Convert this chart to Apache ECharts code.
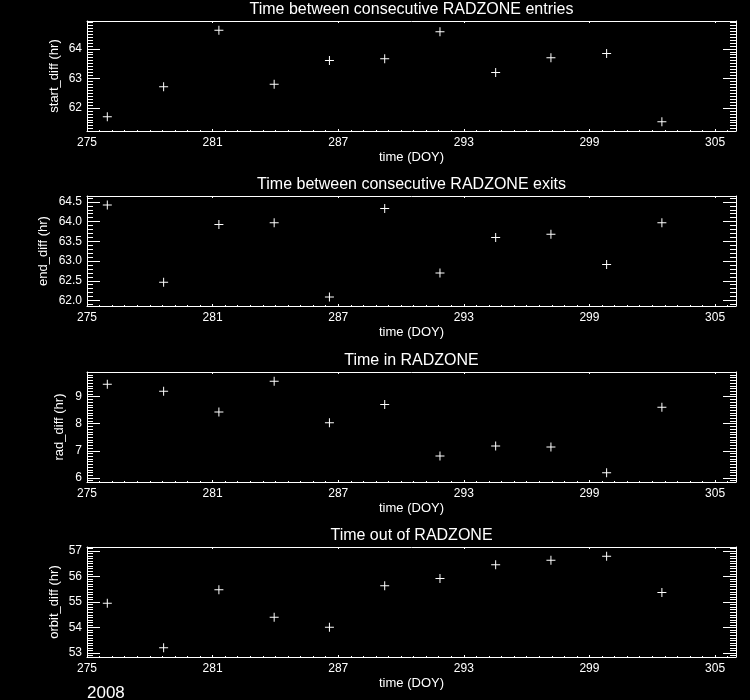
<!DOCTYPE html>
<html><head><meta charset="utf-8">
<script src="https://cdn.jsdelivr.net/npm/echarts@6/dist/echarts.min.js"></script>
<style>html,body{margin:0;padding:0;background:#000}#c{width:750px;height:700px}</style>
</head><body><div id="c"></div>
<script>
// ---- data ----
const days = [275.97, 278.66, 281.30, 283.94, 286.58, 289.22, 291.86, 294.52, 297.16, 299.82, 302.46];
const startDiff = [61.70, 62.72, 64.63, 62.80, 63.60, 63.66, 64.58, 63.20, 63.70, 63.84, 61.53];
const endDiff   = [64.42, 62.46, 63.93, 63.97, 62.09, 64.33, 62.70, 63.60, 63.68, 62.91, 63.97];
const radDiff   = [9.46, 9.20, 8.43, 9.57, 8.04, 8.71, 6.81, 7.18, 7.14, 6.19, 8.61];
const orbitDiff = [54.95, 53.21, 55.48, 54.40, 54.01, 55.64, 55.92, 56.46, 56.63, 56.79, 55.37];

const panelTitles = ['Time between consecutive RADZONE entries', 'Time between consecutive RADZONE exits', 'Time in RADZONE', 'Time out of RADZONE'];
const yNames = ['start_diff (hr)', 'end_diff (hr)', 'rad_diff (hr)', 'orbit_diff (hr)'];
const xName = 'time (DOY)';
const yearLabel = '2008';

const xMin = 275, xMax = 306, xStep = 6;
const yMins = [61.22, 61.86, 5.85, 52.85];
const yMaxs = [64.94, 64.65, 9.91, 57.15];
const ySteps = [1, 0.5, 1, 1];
const yDecimals = [0, 1, 0, 0];
const yMinorSplits = [10, 5, 10, 10];

// ---- layout / style ----
const FONT = 'Liberation Sans';
const WHITE = '#ffffff';
const gridTops = [21, 196, 372, 547];
const gridH = 110;
const gridLeft = 87, gridRight = 14;
const nameGaps = [26, 37, 21, 26];
const plotCenterX = gridLeft + (750 - gridLeft - gridRight) / 2;
const allSeries = [startDiff, endDiff, radDiff, orbitDiff];

const lineStyle = {color: WHITE, width: 1};
const grids = [], xAxes = [], yAxes = [], series = [], graphics = [];

gridTops.forEach((top, i) => {
  grids.push({left: gridLeft, right: gridRight, top: top, height: gridH, show: false});
  const xCommon = {
    gridIndex: i, type: 'value', min: xMin, max: xMax, interval: xStep,
    axisLine: {show: true, onZero: false, lineStyle},
    axisTick: {show: true, inside: true, length: 2, lineStyle},
    minorTick: {show: true, splitNumber: 10, length: 1, lineStyle},
    splitLine: {show: false}, minorSplitLine: {show: false}
  };
  xAxes.push(Object.assign({}, xCommon, {
    position: 'bottom',
    axisLabel: {color: WHITE, fontFamily: FONT, fontSize: 12, margin: 6,
      formatter: v => (Math.abs((v - xMin) / xStep - Math.round((v - xMin) / xStep)) < 1e-6 ? String(Math.round(v)) : '')},
    name: xName, nameLocation: 'middle', nameGap: 20, nameMoveOverlap: false,
    nameTextStyle: {color: WHITE, fontFamily: FONT, fontSize: 13}
  }));
  xAxes.push(Object.assign({}, xCommon, {position: 'top', axisLabel: {show: false}}));

  const step = ySteps[i], dec = yDecimals[i];
  const yCommon = {
    gridIndex: i, type: 'value', min: yMins[i], max: yMaxs[i],
    axisLine: {show: true, onZero: false, lineStyle},
    axisTick: {show: true, inside: true, length: 13, lineStyle},
    minorTick: {show: true, splitNumber: yMinorSplits[i], length: 6, lineStyle},
    splitLine: {show: false}, minorSplitLine: {show: false}
  };
  yAxes.push(Object.assign({}, yCommon, {
    position: 'left',
    axisLabel: {color: WHITE, fontFamily: FONT, fontSize: 12, margin: 5,
      formatter: v => (Math.abs(v / step - Math.round(v / step)) < 1e-6 ? v.toFixed(dec) : '')},
    name: yNames[i], nameLocation: 'middle', nameRotate: 90, nameGap: nameGaps[i], nameMoveOverlap: false,
    nameTextStyle: {color: WHITE, fontFamily: FONT, fontSize: 13}
  }));
  yAxes.push(Object.assign({}, yCommon, {position: 'right', axisLabel: {show: false}}));

  series.push({
    type: 'scatter', xAxisIndex: 2 * i, yAxisIndex: 2 * i,
    data: days.map((d, k) => [d, allSeries[i][k]]),
    symbol: 'path://M0,4H9V5H0Z M4,0H5V9H4Z', symbolSize: 9,
    itemStyle: {color: WHITE, opacity: 1}, emphasis: {disabled: true}
  });

  graphics.push({
    type: 'text', x: plotCenterX, y: top - 19,
    style: {text: panelTitles[i], fill: WHITE, font: '16px "' + FONT + '"', textAlign: 'center', textVerticalAlign: 'top'}
  });
});

graphics.push({
  type: 'text', x: gridLeft, y: 685,
  style: {text: yearLabel, fill: WHITE, font: '17px "' + FONT + '"', textAlign: 'left', textVerticalAlign: 'top'}
});

const chart = echarts.init(document.getElementById('c'), null, {renderer: 'canvas'});
chart.setOption({
  backgroundColor: '#000000',
  animation: false,
  grid: grids, xAxis: xAxes, yAxis: yAxes, series: series, graphic: graphics
});
</script>
</body></html>
